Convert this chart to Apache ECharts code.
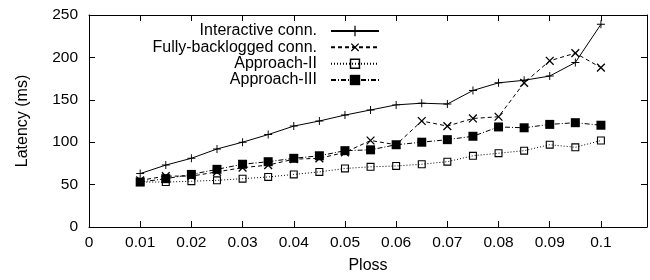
<!DOCTYPE html>
<html>
<head>
<meta charset="utf-8">
<script src="https://cdn.jsdelivr.net/npm/echarts@6/dist/echarts.min.js"></script>
<style>
  html, body { margin: 0; padding: 0; background: #fff; }
  #chart { width: 650px; height: 280px; }
</style>
</head>
<body>
<div id="chart"></div>
<script>
// Ploss values on the x axis
var ploss = [0.01, 0.015, 0.02, 0.025, 0.03, 0.035, 0.04, 0.045, 0.05, 0.055,
  0.06, 0.065, 0.07, 0.075, 0.08, 0.085, 0.09, 0.095, 0.1];

// latency (ms)
var interactive = [63, 73, 81, 92, 100, 109, 119, 125, 132, 138,
  144, 146, 145, 161, 170, 173, 178, 194, 239];
var backlogged = [55, 60, 60, 65, 70, 73, 80, 81, 88, 102,
  97, 125, 119, 128, 130, 170, 196, 205, 188];
var approach2 = [53, 53, 54, 55, 57, 59, 62, 65, 69, 71,
  72, 74, 77, 84, 87, 90, 97, 94, 102];
var approach3 = [53, 57, 62, 68, 74, 77, 81, 84, 90, 91,
  97, 100, 103, 107, 118, 117, 121, 123, 120];

var xTicks = [0, 0.01, 0.02, 0.03, 0.04, 0.05, 0.06, 0.07, 0.08, 0.09, 0.1];
var seriesNames = ["Interactive conn.", "Fully-backlogged conn.", "Approach-II", "Approach-III"];

var plusPath = "path://M4.4,0H5.6V10H4.4Z M0,4.4H10V5.6H0Z";
var openSquare = "path://M0,0H10V10H0Z M1.4,1.4V8.6H8.6V1.4Z";

function pairs(ys) {
  var out = [];
  for (var i = 0; i < ploss.length; i++) {
    out.push([ploss[i], ys[i]]);
  }
  return out;
}

var font = "Liberation Sans, Arial, Helvetica, sans-serif";
var myChart = echarts.init(document.getElementById("chart"));

function axisBase() {
  return {
    axisLine: { show: true, onZero: false, lineStyle: { color: "#000", width: 1 } },
    axisTick: { show: true, inside: true, length: 6, lineStyle: { color: "#000", width: 1 } },
    splitLine: { show: false }
  };
}

var xBottom = axisBase();
Object.assign(xBottom, {
  type: "value", position: "bottom", min: 0, max: 0.109,
  name: "Ploss", nameLocation: "middle", nameGap: 31,
  nameTextStyle: { color: "#000", fontSize: 16, fontFamily: font },
  axisLabel: {
    color: "#000", fontSize: 15.5, fontFamily: font, margin: 8,
    customValues: xTicks,
    formatter: function (v) { return String(v); }
  }
});
xBottom.axisTick.customValues = xTicks;

var xTop = axisBase();
Object.assign(xTop, {
  type: "value", position: "top", min: 0, max: 0.109,
  axisLabel: { show: false }
});
xTop.axisTick.customValues = xTicks;

var yLeft = axisBase();
Object.assign(yLeft, {
  type: "value", position: "left", min: 0, max: 250, interval: 50,
  name: "Latency (ms)", nameLocation: "middle", nameGap: 58,
  nameTextStyle: { color: "#000", fontSize: 16, fontFamily: font },
  axisLabel: { color: "#000", fontSize: 15.5, fontFamily: font, margin: 11 }
});

var yRight = axisBase();
Object.assign(yRight, {
  type: "value", position: "right", min: 0, max: 250, interval: 50,
  axisLabel: { show: false }
});

function legendFor(i, centerY) {
  return {
    data: [seriesNames[i]],
    right: 270,
    top: centerY - 7,
    padding: 0,
    align: "right",
    itemWidth: 48,
    itemHeight: 13,
    selectedMode: false,
    textStyle: {
      color: "#000", fontSize: 16, fontFamily: font, lineHeight: 14,
      padding: [0, 9, 0, 0]
    }
  };
}

var option = {
  animation: false,
  backgroundColor: "#fff",
  grid: { left: 89, right: 3, top: 15, bottom: 53 },
  legend: [legendFor(0, 30), legendFor(1, 46.3), legendFor(2, 62.7), legendFor(3, 79)],
  xAxis: [xBottom, xTop],
  yAxis: [yLeft, yRight],
  series: [
    {
      name: seriesNames[0], type: "line", data: pairs(interactive),
      symbol: plusPath, symbolSize: 8,
      itemStyle: { color: "#000" },
      lineStyle: { color: "#000", width: 1, type: "solid" }
    },
    {
      name: seriesNames[1], type: "line", data: pairs(backlogged),
      symbol: plusPath, symbolSize: 11, symbolRotate: 45,
      itemStyle: { color: "#000" },
      lineStyle: { color: "#000", width: 1, type: [4, 3] }
    },
    {
      name: seriesNames[2], type: "line", data: pairs(approach2),
      symbol: openSquare, symbolSize: 8,
      itemStyle: { color: "#000" },
      lineStyle: { color: "#000", width: 1, type: [1, 2] }
    },
    {
      name: seriesNames[3], type: "line", data: pairs(approach3),
      symbol: "rect", symbolSize: 9,
      itemStyle: { color: "#000" },
      lineStyle: { color: "#000", width: 1, type: [5, 2, 1, 2] }
    }
  ]
};

myChart.setOption(option);
</script>
</body>
</html>
